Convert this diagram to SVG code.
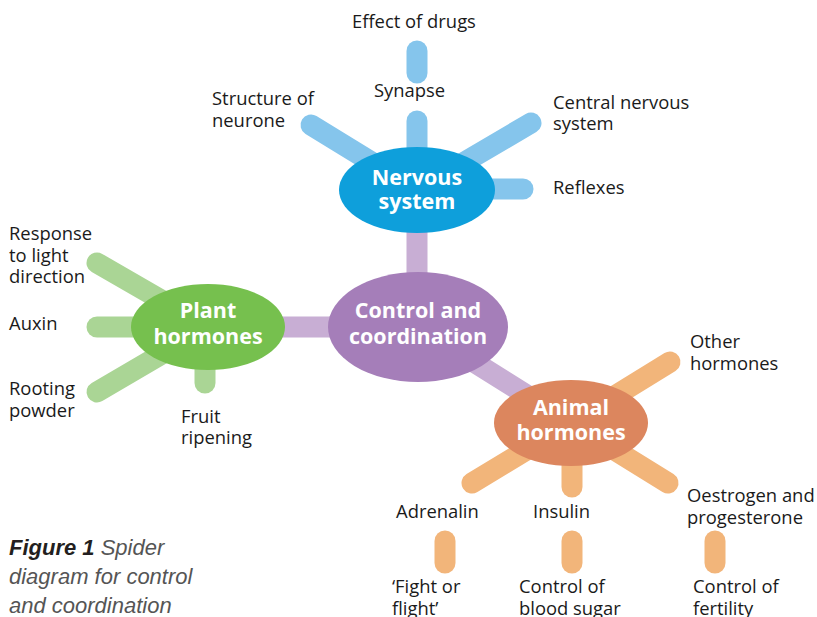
<svg xmlns="http://www.w3.org/2000/svg" width="817" height="617" viewBox="0 0 817 617">
<style>
.sp{stroke-width:21;stroke-linecap:round;fill:none}
.b{stroke:#85C5EC}.g{stroke:#AAD595}.o{stroke:#F2B57A}.p{stroke:#C8AED4}
.lbl{font-family:"Open Sans","Noto Sans",sans-serif;font-size:18.4px;fill:#1a1a1a}
.hd{font-family:"Open Sans","Noto Sans",sans-serif;font-size:21.5px;font-weight:bold;fill:#fff;text-anchor:middle}
.cap{font-family:"Liberation Sans",Arial,sans-serif;font-size:22px;font-style:italic;fill:#555}
</style>
<rect width="817" height="617" fill="#fff"/>
<g id="connectors">
<line class="sp p" x1="417" y1="190" x2="417" y2="327"/>
<line class="sp p" x1="208" y1="327" x2="418" y2="327"/>
<line class="sp p" x1="418" y1="327" x2="571" y2="423"/>
<line class="sp b" x1="417" y1="190" x2="417" y2="121"/>
<line class="sp b" x1="417" y1="190" x2="311" y2="125"/>
<line class="sp b" x1="417" y1="190" x2="531" y2="123"/>
<line class="sp b" x1="417" y1="189" x2="523" y2="189"/>
<line class="sp b" x1="417" y1="51" x2="417" y2="73"/>
<line class="sp g" x1="208" y1="327" x2="97" y2="263"/>
<line class="sp g" x1="208" y1="327" x2="97" y2="327"/>
<line class="sp g" x1="208" y1="327" x2="97" y2="392"/>
<line class="sp g" x1="205" y1="327" x2="205" y2="383"/>
<line class="sp o" x1="571" y1="423" x2="670" y2="362"/>
<line class="sp o" x1="571" y1="423" x2="472" y2="483"/>
<line class="sp o" x1="572" y1="423" x2="572" y2="487"/>
<line class="sp o" x1="571" y1="423" x2="668" y2="483"/>
<line class="sp o" x1="445" y1="541" x2="445" y2="563"/>
<line class="sp o" x1="572" y1="541" x2="572" y2="563"/>
<line class="sp o" x1="715" y1="541" x2="715" y2="563"/>
</g>
<g id="nervous">
<ellipse cx="417" cy="190" rx="78" ry="43" fill="#0E9FDB"/>
<text class="hd" x="417" y="185">Nervous</text>
<text class="hd" x="417" y="209">system</text>
</g>
<g id="control">
<ellipse cx="418" cy="327" rx="90" ry="55" fill="#A57EB9"/>
<text class="hd" x="418" y="318">Control and</text>
<text class="hd" x="418" y="344">coordination</text>
</g>
<g id="plant">
<ellipse cx="208" cy="327" rx="77" ry="43" fill="#76C04E"/>
<text class="hd" x="208" y="318">Plant</text>
<text class="hd" x="208" y="344">hormones</text>
</g>
<g id="animal">
<ellipse cx="571" cy="423" rx="77" ry="43" fill="#DC865E"/>
<text class="hd" x="571" y="415">Animal</text>
<text class="hd" x="571" y="440">hormones</text>
</g>
<g id="effect"><text class="lbl" x="352" y="28">Effect of drugs</text></g>
<g id="synapse"><text class="lbl" x="374" y="97">Synapse</text></g>
<g id="structure"><text class="lbl" x="212" y="105">Structure of</text><text class="lbl" x="212" y="127">neurone</text></g>
<g id="cns"><text class="lbl" x="553" y="109">Central nervous</text><text class="lbl" x="553" y="130">system</text></g>
<g id="reflexes"><text class="lbl" x="553" y="194">Reflexes</text></g>
<g id="response"><text class="lbl" x="9" y="240">Response</text><text class="lbl" x="9" y="262">to light</text><text class="lbl" x="9" y="283">direction</text></g>
<g id="auxin"><text class="lbl" x="9" y="330">Auxin</text></g>
<g id="rooting"><text class="lbl" x="9" y="395">Rooting</text><text class="lbl" x="9" y="417">powder</text></g>
<g id="fruit"><text class="lbl" x="181" y="423">Fruit</text><text class="lbl" x="181" y="444">ripening</text></g>
<g id="other"><text class="lbl" x="690" y="348">Other</text><text class="lbl" x="690" y="370">hormones</text></g>
<g id="adrenalin"><text class="lbl" x="396" y="518">Adrenalin</text></g>
<g id="insulin"><text class="lbl" x="533" y="518">Insulin</text></g>
<g id="oestrogen"><text class="lbl" x="687" y="502">Oestrogen and</text><text class="lbl" x="687" y="524">progesterone</text></g>
<g id="fight"><text class="lbl" x="392" y="593">‘Fight or</text><text class="lbl" x="392" y="615">flight’</text></g>
<g id="sugar"><text class="lbl" x="519" y="593">Control of</text><text class="lbl" x="519" y="615">blood sugar</text></g>
<g id="fertility"><text class="lbl" x="693" y="593">Control of</text><text class="lbl" x="693" y="615">fertility</text></g>
<g id="caption">
<text class="cap" x="9" y="555"><tspan font-weight="bold" fill="#231F20">Figure 1</tspan>  Spider</text>
<text class="cap" x="9" y="584">diagram for control</text>
<text class="cap" x="9" y="613">and coordination</text>
</g>
</svg>
